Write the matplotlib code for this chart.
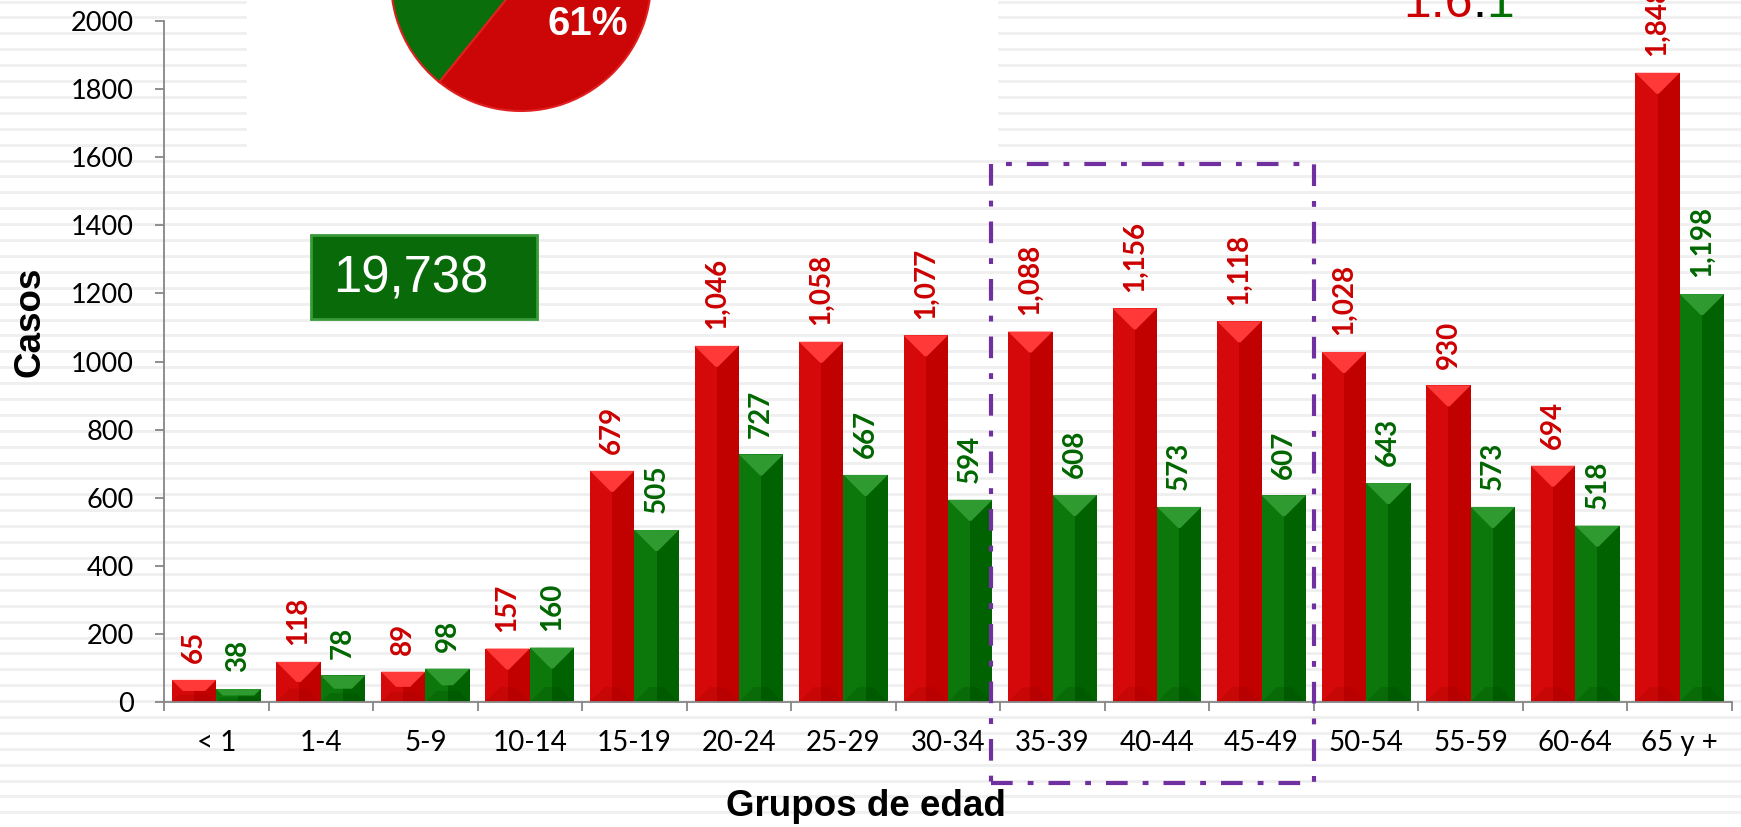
import matplotlib
matplotlib.use("Agg")
import matplotlib.pyplot as plt
from matplotlib.patches import Rectangle, Polygon
import numpy as np

# datos por grupo de edad
grupos = ['< 1', '1-4', '5-9', '10-14', '15-19', '20-24', '25-29', '30-34',
          '35-39', '40-44', '45-49', '50-54', '55-59', '60-64', '65 y +']
casos_rojo = [65, 118, 89, 157, 679, 1046, 1058, 1077, 1088, 1156, 1118, 1028, 930, 694, 1848]
casos_verde = [38, 78, 98, 160, 505, 727, 667, 594, 608, 573, 607, 643, 573, 518, 1198]
total = 19738
pct_rojo = '61%'
razon = ['1.6', ':', '1']
yticks = list(range(0, 2001, 200))

W, H = 1741, 827
fig = plt.figure(figsize=(W / 100, H / 100), dpi=100)
fig.patch.set_facecolor('white')

# fondo con rayas tipo diapositiva
bg = fig.add_axes([0, 0, 1, 1], zorder=-5)
bg.set_xlim(0, W)
bg.set_ylim(H, 0)
bg.axis('off')
for yy in np.arange(1.5, H, 15.9):
    bg.axhline(yy, color='#efefef', lw=2.0)
bg.add_patch(Rectangle((247, -2), 750, 149, color='white', zorder=3))

ax = fig.add_axes([164 / W, 125 / H, (1732 - 164) / W, 681 / H])
ax.patch.set_alpha(0)

x = np.arange(len(grupos))
w = 0.425
px_x = (1732 - 164) / 15.0   # pixels por categoria
px_y = 681 / 2000.0          # pixels por caso


def bar_bevel(xs, vals, c_main, c_dark, c_top, c_bot):
    ax.bar(xs, vals, w, color=c_main, zorder=2)
    ax.bar(xs + w / 4, vals, w / 2, color=c_dark, zorder=2)
    for xc, v in zip(xs, vals):
        x0, x1 = xc - w / 2, xc + w / 2
        d = min(21 / px_y, v / 2)
        dx = min(d * px_y / px_x, w / 2)
        ax.add_patch(Polygon([(x0, v), (x1, v), (x1 - dx, v - d), (x0 + dx, v - d)],
                             closed=True, color=c_top, zorder=3, lw=0))
        db = min(15 / px_y, v / 3)
        dxb = min(db * px_y / px_x, w / 2)
        ax.add_patch(Polygon([(x0, 0), (x1, 0), (x1 - dxb, db), (x0 + dxb, db)],
                             closed=True, color=c_bot, zorder=3, lw=0, alpha=0.3))


bar_bevel(x - w / 2, casos_rojo, '#d50909', '#c10000', '#ff3838', '#a80000')
bar_bevel(x + w / 2, casos_verde, '#0c780c', '#006200', '#2f9a2f', '#004d00')

for xs, vals, col in [(x - w / 2, casos_rojo, '#cc0000'), (x + w / 2, casos_verde, '#006600')]:
    for xc, v in zip(xs, vals):
        ax.annotate(f'{v:,}', (xc, v), xytext=(0, 12), textcoords='offset points',
                    rotation=90, ha='center', va='bottom', color=col,
                    fontsize=20, fontweight='bold', family='Lato',
                    annotation_clip=False)

ax.set_xlim(-0.5, 14.5)
ax.set_ylim(0, 2000)
ax.set_yticks(yticks)
ax.set_yticklabels([str(t) for t in yticks], family='Lato', fontsize=19.5)
ax.set_xticks(x)
ax.set_xticklabels(grupos, family='Lato', fontsize=20)
ax.set_xticks(np.arange(-0.5, 15, 1), minor=True)
ax.tick_params(axis='x', which='major', length=0, pad=20)
ax.tick_params(axis='x', which='minor', length=6.5, width=1.3, color='#868686', direction='out')
ax.tick_params(axis='y', length=6.5, width=1.3, color='#868686', direction='out', pad=15)
for s in ['top', 'right']:
    ax.spines[s].set_visible(False)
for s in ['left', 'bottom']:
    ax.spines[s].set_color('#868686')
    ax.spines[s].set_linewidth(1.3)
    ax.spines[s].set_zorder(4)

fig.text(30 / W, 1 - 322 / H, 'Casos', rotation=90, ha='center', va='center',
         fontsize=26.5, fontweight='bold', family='Liberation Sans')
fig.text(866 / W, 1 - 806 / H, 'Grupos de edad', ha='center', va='center',
         fontsize=26.5, fontweight='bold', family='Liberation Sans')

# recuadro con dash-dot morado (35-49)
ax.add_patch(Rectangle((7.41, -238), 10.5 - 7.41, 1580 + 238, fill=False,
                       edgecolor='#7030a0', lw=3, clip_on=False, zorder=5,
                       linestyle=(0, (5.2, 3.6, 1.4, 3.6))))

# total
bg.add_patch(Rectangle((311, 235), 226, 84, facecolor='#086a08', edgecolor='#3a9a3a',
                       lw=2, zorder=4))
bg.text(411, 279, f'{total:,}', color='white', fontsize=36.5, ha='center', va='center',
        family='Liberation Sans', zorder=5)

# pastel (cortado arriba)
pie_ax = fig.add_axes([(521 - 130) / W, (846 - 130) / H, 260 / W, 260 / H], zorder=6)
pie_ax.pie([sum(casos_rojo), sum(casos_verde)], colors=['#cc0606', '#0a6e0a'],
           startangle=231, counterclock=True, radius=1,
           wedgeprops=dict(linewidth=1.5, edgecolor='#e02020'))
pie_ax.set_aspect('equal')
pie_ax.set_xlim(-1, 1)
pie_ax.set_ylim(-1, 1)
fig.text(588 / W, 1 - 24 / H, pct_rojo, color='white', fontsize=29, fontweight='bold',
         ha='center', va='center', family='Liberation Sans', zorder=10)

# razon 1.6:1
t1 = fig.text(1403 / W, 1 - 17 / H, razon[0], color='#cc0000', fontsize=36,
              family='Liberation Sans', va='baseline', ha='left')
t2 = ax.annotate(razon[1], xy=(1, 0), xycoords=t1, color='black', fontsize=36,
                 family='Liberation Sans', va='bottom', ha='left')
t3 = ax.annotate(razon[2], xy=(1, 0), xycoords=t2, color='#007000', fontsize=36,
                 family='Liberation Sans', va='bottom', ha='left')

fig.savefig('out.png', dpi=100)
